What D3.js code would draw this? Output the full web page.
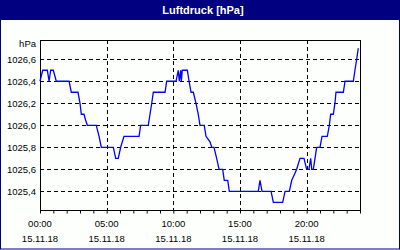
<!DOCTYPE html>
<html>
<head>
<meta charset="utf-8">
<script src="https://cdn.jsdelivr.net/npm/d3@7"></script>
<style>
  html, body { margin: 0; padding: 0; background: #fff; }
  svg text { font-family: "Liberation Sans", Arial, sans-serif; }
</style>
</head>
<body>
<div id="chart"></div>
<script>
'use strict';

var chartTitle = 'Luftdruck [hPa]';
var unitLabel = 'hPa';
var dateLabel = '15.11.18';

// time in hours since 00:00, pressure in hPa
var hours = [0, 0.2, 0.55, 0.68, 0.8, 1.0, 1.22, 2.18, 2.35, 2.85, 3.0, 3.1, 3.3, 3.41, 3.55,
    4.22, 4.43, 4.6, 5.5, 5.68, 5.87, 6.05, 6.3, 7.43, 7.55, 8.12, 8.25, 8.38, 8.5, 9.38, 9.5,
    10.2, 10.37, 10.45, 10.55, 10.6, 10.67, 11.05, 11.18, 11.33, 11.5, 11.7, 11.87, 12.0, 12.32,
    12.45, 12.75, 12.88, 13.05, 13.25, 13.43, 13.7, 13.82, 14.08, 14.2, 16.37, 16.5, 16.65,
    17.33, 17.5, 18.2, 18.38, 18.7, 18.88, 19.07, 19.25, 19.5, 19.8, 20.0, 20.17, 20.3, 20.38,
    20.5, 20.75, 21.0, 21.15, 21.55, 21.7, 21.8, 22.0, 22.12, 22.2, 22.75, 22.88, 23.5, 23.62,
    23.75, 23.87];
var pressure = [1026.4, 1026.5, 1026.5, 1026.4, 1026.5, 1026.5, 1026.4, 1026.4, 1026.3, 1026.3, 1026.2, 1026.1, 1026.1, 1026.05, 1026.0,
    1026.0, 1025.9, 1025.8, 1025.8, 1025.7, 1025.7, 1025.8, 1025.9, 1025.9, 1026.0, 1026.0, 1026.1, 1026.2, 1026.3, 1026.3, 1026.4,
    1026.4, 1026.5, 1026.4, 1026.5, 1026.4, 1026.5, 1026.5, 1026.4, 1026.3, 1026.3, 1026.2, 1026.1, 1026.0, 1026.0,
    1025.9, 1025.85, 1025.8, 1025.8, 1025.7, 1025.6, 1025.6, 1025.5, 1025.5, 1025.4, 1025.4, 1025.5, 1025.4,
    1025.4, 1025.3, 1025.3, 1025.4, 1025.4, 1025.5, 1025.55, 1025.6, 1025.7, 1025.7, 1025.6, 1025.6, 1025.7, 1025.6,
    1025.6, 1025.8, 1025.8, 1025.9, 1025.9, 1026.0, 1026.1, 1026.1, 1026.2, 1026.3, 1026.3, 1026.4, 1026.4, 1026.5,
    1026.6, 1026.7];

var yTicks = [1025.4, 1025.6, 1025.8, 1026.0, 1026.2, 1026.4, 1026.6];
var xLabelHours = [0, 5, 10, 15, 20];
var xLabels = ['00:00', '05:00', '10:00', '15:00', '20:00'];

var width = 400, height = 250;
var plot = {left: 40, right: 360, top: 40, bottom: 210};

var svg = d3.select('#chart')
    .append('svg')
    .attr('width', width)
    .attr('height', height);

// frame and title bar
svg.append('rect')
    .attr('x', 0.5).attr('y', 0.5)
    .attr('width', width - 1).attr('height', height - 1.5)
    .attr('fill', '#fdfffd')
    .attr('stroke', '#000080');

svg.append('rect')
    .attr('x', 0).attr('y', 0)
    .attr('width', width).attr('height', 20)
    .attr('fill', '#000080');

svg.append('text')
    .attr('x', 203).attr('y', 14)
    .attr('text-anchor', 'middle')
    .attr('fill', '#fff')
    .style('font-size', '11px')
    .style('font-weight', 'bold')
    .text(chartTitle);

var x = d3.scaleLinear().domain([0, 24]).range([plot.left, plot.right]);
var y = d3.scaleLinear().domain([1025.23, 1026.775]).range([plot.bottom, plot.top]);

var locale = d3.formatLocale({decimal: ',', thousands: '', grouping: [3], currency: ['', '']});
var fmt = locale.format('.1f');

// grid
var grid = svg.append('g').attr('class', 'grid');
grid.selectAll('.hgrid')
    .data(yTicks)
    .enter().append('line')
    .attr('x1', plot.left).attr('x2', plot.right)
    .attr('y1', function (d) { return Math.round(y(d)) + 0.5; })
    .attr('y2', function (d) { return Math.round(y(d)) + 0.5; })
    .attr('stroke', '#000')
    .attr('stroke-dasharray', '4,3');

grid.selectAll('.vgrid')
    .data(xLabelHours.slice(1))
    .enter().append('line')
    .attr('y1', plot.top).attr('y2', plot.bottom)
    .attr('x1', function (d) { return Math.round(x(d)) + 0.5; })
    .attr('x2', function (d) { return Math.round(x(d)) + 0.5; })
    .attr('stroke', '#000')
    .attr('stroke-dasharray', '4,3');

// plot border
svg.append('rect')
    .attr('x', plot.left + 0.5).attr('y', plot.top + 0.5)
    .attr('width', plot.right - plot.left).attr('height', plot.bottom - plot.top)
    .attr('fill', 'none')
    .attr('stroke', '#000');

// y axis labels
var yAxis = svg.append('g')
    .attr('transform', 'translate(' + plot.left + ',0)')
    .call(d3.axisLeft(y).tickValues(yTicks).tickSize(0).tickPadding(4).tickFormat(fmt));
yAxis.select('.domain').remove();
yAxis.selectAll('text')
    .style('font-size', '9.5px')
    .style('font-family', '"Liberation Sans", Arial, sans-serif')
    .attr('fill', '#000');

svg.append('text')
    .attr('x', 36).attr('y', 47)
    .attr('text-anchor', 'end')
    .style('font-size', '9.5px')
    .text(unitLabel);

// x axis hour ticks
var xAxis = svg.append('g')
    .attr('transform', 'translate(0,' + (plot.bottom + 0.5) + ')')
    .call(d3.axisBottom(x).tickValues(d3.range(0, 25)).tickSize(3).tickFormat(''));
xAxis.select('.domain').remove();

var xLab = svg.selectAll('.xlab')
    .data(xLabelHours)
    .enter().append('g')
    .attr('transform', function (d) { return 'translate(' + x(d) + ',0)'; });
xLab.append('text')
    .attr('y', 227)
    .attr('text-anchor', 'middle')
    .style('font-size', '9.5px')
    .text(function (d, i) { return xLabels[i]; });
xLab.append('text')
    .attr('y', 242)
    .attr('text-anchor', 'middle')
    .style('font-size', '9.5px')
    .text(dateLabel);

// pressure line
var line = d3.line()
    .x(function (d, i) { return x(hours[i]); })
    .y(function (d) { return y(d); });

svg.append('path')
    .datum(pressure)
    .attr('d', line)
    .attr('fill', 'none')
    .attr('stroke', '#0000ff')
    .attr('stroke-width', 1.3);
</script>
</body>
</html>
